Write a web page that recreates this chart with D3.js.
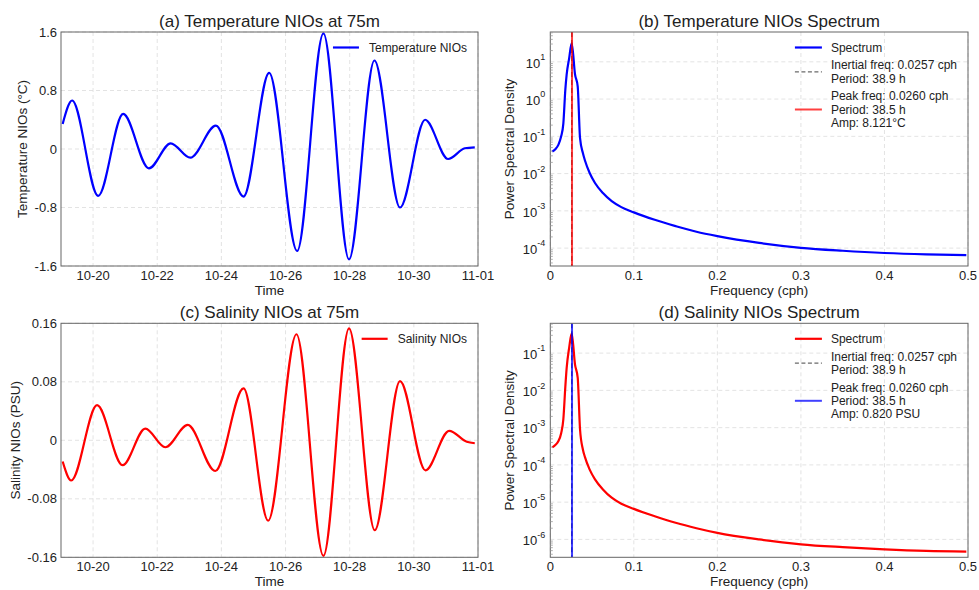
<!DOCTYPE html>
<html>
<head>
<meta charset="utf-8">
<script src="https://cdn.jsdelivr.net/npm/d3@7"></script>
<style>
  body { margin: 0; background: #fff; }
  text { font-family: "Liberation Sans", Arial, sans-serif; fill: #222; }
</style>
</head>
<body>
<div id="chart"></div>
<script>
// time series (extrema + ends)
const tempTimes = ["2024-10-19 01:15","2024-10-19 08:20","2024-10-20 03:50","2024-10-20 22:30","2024-10-21 17:45","2024-10-22 10:05","2024-10-23 00:45","2024-10-23 19:55","2024-10-24 16:35","2024-10-25 11:45","2024-10-26 08:40","2024-10-27 04:20","2024-10-27 23:30","2024-10-28 18:30","2024-10-29 13:40","2024-10-30 08:25","2024-10-31 01:40","2024-10-31 14:10","2024-10-31 21:35"];
const tempValues = [0.343,0.663,-0.64,0.48,-0.265,0.078,-0.119,0.32,-0.65,1.04,-1.395,1.58,-1.51,1.21,-0.80,0.40,-0.137,0.01,0.023];

const salTimes = ["2024-10-19 01:15","2024-10-19 07:40","2024-10-20 03:00","2024-10-20 22:05","2024-10-21 15:05","2024-10-22 06:00","2024-10-22 22:50","2024-10-23 19:25","2024-10-24 16:35","2024-10-25 11:00","2024-10-26 08:10","2024-10-27 04:20","2024-10-27 23:30","2024-10-28 18:45","2024-10-29 13:40","2024-10-30 08:40","2024-10-31 02:25","2024-10-31 15:35","2024-10-31 21:35"];
const salValues = [-0.029,-0.055,0.048,-0.034,0.016,-0.0095,0.021,-0.042,0.071,-0.110,0.145,-0.158,0.153,-0.123,0.081,-0.041,0.013,-0.002,-0.004];

// spectra (cph, PSD)
const specFreq = [0.0024,0.006,0.0096,0.013,0.0156,0.018,0.0196,0.0226,0.0256,0.0296,0.0328,0.0356,0.039,0.0415,0.047,0.0535,0.063,0.0735,0.085,0.1,0.125,0.15,0.175,0.2,0.25,0.3,0.35,0.4,0.45,0.498];
const tempPSD = [3.9e-2,4.5e-2,5.9e-2,1.0e-1,2.2e-1,1.8,4.6,12.6,32,4.6,2.2,8.9e-2,3.55e-2,2.24e-2,1.05e-2,5.6e-3,3.0e-3,1.82e-3,1.26e-3,9.1e-4,5.75e-4,3.9e-4,2.75e-4,2.1e-4,1.38e-4,1.02e-4,8.5e-5,7.4e-5,6.8e-5,6.5e-5];
const salPSD = [2.95e-4,3.4e-4,4.3e-4,7.1e-4,1.66e-3,1.26e-2,4.0e-2,0.141,0.34,4.9e-2,2.2e-2,8.9e-4,2.6e-4,1.62e-4,7.6e-5,4.1e-5,2.2e-5,1.32e-5,9.1e-6,6.6e-6,4.2e-6,2.8e-6,2.0e-6,1.5e-6,1.0e-6,7.4e-7,6.2e-7,5.4e-7,4.9e-7,4.7e-7];

const inertialFreq = 0.0257;
const peakFreq = 0.0260;

const timeTicks = ["2024-10-20","2024-10-22","2024-10-24","2024-10-26","2024-10-28","2024-10-30","2024-11-01"];
const tempTicks = [-1.6,-0.8,0,0.8,1.6];
const salTicks = [-0.16,-0.08,0,0.08,0.16];
const freqTicks = [0,0.1,0.2,0.3,0.4,0.5];
const tempExps = [-4,-3,-2,-1,0,1];
const salExps = [-6,-5,-4,-3,-2,-1];

const tempSpecLegend = [["Spectrum"],["Inertial freq: 0.0257 cph","Period: 38.9 h"],["Peak freq: 0.0260 cph","Period: 38.5 h","Amp: 8.121°C"]];
const salSpecLegend = [["Spectrum"],["Inertial freq: 0.0257 cph","Period: 38.9 h"],["Peak freq: 0.0260 cph","Period: 38.5 h","Amp: 0.820 PSU"]];

const width = 979, height = 590;
const parseT = d3.timeParse("%Y-%m-%d %H:%M");
const parseD = d3.timeParse("%Y-%m-%d");

const svg = d3.select("#chart").append("svg")
    .attr("width", width)
    .attr("height", height);

const FRAME = "#666", GRID = "#dcdcdc";

function drawFrame(g, b) {
    g.append("rect")
        .attr("x", b.x0).attr("y", b.y0)
        .attr("width", b.x1 - b.x0).attr("height", b.y1 - b.y0)
        .attr("fill", "none").attr("stroke", FRAME).attr("stroke-width", 1);
}

function clip(id, b) {
    svg.append("clipPath").attr("id", id).append("rect")
        .attr("x", b.x0).attr("y", b.y0)
        .attr("width", b.x1 - b.x0).attr("height", b.y1 - b.y0);
}

function gridLines(g, b, xs, ys) {
    const gg = g.append("g").attr("stroke", GRID).attr("stroke-width", 0.8)
        .attr("stroke-dasharray", "4,3");
    xs.forEach(x => gg.append("line").attr("x1", x).attr("x2", x).attr("y1", b.y0).attr("y2", b.y1));
    ys.forEach(y => gg.append("line").attr("x1", b.x0).attr("x2", b.x1).attr("y1", y).attr("y2", y));
}

function labels(g, b, title, xlabel, ylabel, ylabelX) {
    g.append("text").attr("x", (b.x0 + b.x1) / 2).attr("y", b.y0 - 5)
        .attr("text-anchor", "middle").attr("font-size", 17).text(title);
    g.append("text").attr("x", (b.x0 + b.x1) / 2).attr("y", b.y1 + 29)
        .attr("text-anchor", "middle").attr("font-size", 13.5).text(xlabel);
    g.append("text")
        .attr("transform", `translate(${ylabelX},${(b.y0 + b.y1) / 2}) rotate(-90)`)
        .attr("text-anchor", "middle").attr("dy", "0.35em").attr("font-size", 13.5).text(ylabel);
}

function fmtNum(v) {
    if (v === 0) return "0";
    return String(v);
}

function timePanel(b, times, values, color, yTicks, title, ylabel, legendLabel, id, ylabelX) {
    const g = svg.append("g");
    const x = d3.scaleTime([parseD("2024-10-19"), parseD("2024-11-01")], [b.x0, b.x1]);
    const y = d3.scaleLinear([yTicks[0], yTicks[yTicks.length - 1]], [b.y1, b.y0]);
    const xt = timeTicks.map(parseD);
    gridLines(g, b, xt.map(x), yTicks.map(y));

    clip(id, b);
    const data = times.map((t, i) => [parseT(t), values[i]]);
    g.append("path").datum(data)
        .attr("clip-path", `url(#${id})`)
        .attr("fill", "none").attr("stroke", color).attr("stroke-width", 2.2)
        .attr("d", d3.line().x(d => x(d[0])).y(d => y(d[1])).curve(d3.curveMonotoneX));

    drawFrame(g, b);

    const fmt = d3.timeFormat("%m-%d");
    xt.forEach(t => g.append("text").attr("x", x(t)).attr("y", b.y1 + 14)
        .attr("text-anchor", "middle").attr("font-size", 13).text(fmt(t)));
    yTicks.forEach(v => g.append("text").attr("x", b.x0 - 4).attr("y", y(v))
        .attr("dy", "0.35em").attr("text-anchor", "end").attr("font-size", 13).text(fmtNum(v)));

    labels(g, b, title, "Time", ylabel, ylabelX);

    // legend
    const ly = b.y0 + 15.5;
    const t = g.append("text").attr("x", b.x1 - 11).attr("y", ly).attr("dy", "0.35em")
        .attr("text-anchor", "end").attr("font-size", 12).text(legendLabel);
    const tx = b.x1 - 11 - t.node().getComputedTextLength();
    g.append("line").attr("x1", tx - 36).attr("x2", tx - 10).attr("y1", ly).attr("y2", ly)
        .attr("stroke", color).attr("stroke-width", 2.2);
}

function specPanel(b, psd, color, peakColor, exps, title, legend, id) {
    const g = svg.append("g");
    const x = d3.scaleLinear([0, 0.5], [b.x0, b.x1]);
    const lo = exps[0] - 0.48, hi = exps[exps.length - 1] + 0.80;
    const y = d3.scaleLog([Math.pow(10, lo), Math.pow(10, hi)], [b.y1, b.y0]);
    gridLines(g, b, freqTicks.map(x), exps.map(e => y(Math.pow(10, e))));

    clip(id, b);
    const cg = g.append("g").attr("clip-path", `url(#${id})`);
    const data = specFreq.map((f, i) => [f, psd[i]]);
    cg.append("path").datum(data)
        .attr("fill", "none").attr("stroke", color).attr("stroke-width", 2.2)
        .attr("d", d3.line().x(d => x(d[0])).y(d => y(d[1])).curve(d3.curveMonotoneX));
    cg.append("line").attr("x1", x(inertialFreq)).attr("x2", x(inertialFreq))
        .attr("y1", b.y0).attr("y2", b.y1)
        .attr("stroke", "#333").attr("stroke-opacity", 0.7).attr("stroke-width", 1.5)
        .attr("stroke-dasharray", "5,3");
    cg.append("line").attr("x1", x(peakFreq)).attr("x2", x(peakFreq))
        .attr("y1", b.y0).attr("y2", b.y1)
        .attr("stroke", peakColor).attr("stroke-opacity", 0.75).attr("stroke-width", 2);

    drawFrame(g, b);

    // minor log ticks
    for (let e = Math.floor(lo); e <= Math.ceil(hi); e++) {
        for (let m = 2; m <= 9; m++) {
            const v = m * Math.pow(10, e);
            if (v < Math.pow(10, lo) || v > Math.pow(10, hi)) continue;
            g.append("line").attr("x1", b.x0).attr("x2", b.x0 + 2.5)
                .attr("y1", y(v)).attr("y2", y(v)).attr("stroke", "#999").attr("stroke-width", 0.8);
        }
    }

    freqTicks.forEach(f => g.append("text").attr("x", x(f)).attr("y", b.y1 + 14)
        .attr("text-anchor", "middle").attr("font-size", 13).text(fmtNum(f)));
    exps.forEach(e => {
        const t = g.append("text").attr("x", b.x0 - 5).attr("y", y(Math.pow(10, e)))
            .attr("dy", "0.45em").attr("text-anchor", "end").attr("font-size", 13);
        t.append("tspan").text("10");
        t.append("tspan").attr("font-size", 9).attr("dy", "-0.85em").text(e < 0 ? "-" + (-e) : String(e));
    });

    labels(g, b, title, "Frequency (cph)", "Power Spectral Density", b.x0 - 41);

    // legend
    const lh = 13.3, gap = 4.4;
    const styles = [
        { stroke: color, dash: null, w: 2.2, op: 1 },
        { stroke: "#444", dash: "4,2.5", w: 1.3, op: 0.8 },
        { stroke: peakColor, dash: null, w: 2, op: 0.75 }
    ];
    let cy = b.y0 + 15.5;
    const texts = [];
    const marks = [];
    legend.forEach((lines, i) => {
        const first = cy;
        lines.forEach(s => {
            texts.push(g.append("text").attr("y", cy).attr("dy", "0.35em")
                .attr("font-size", 12).text(s));
            cy += lh;
        });
        marks.push((first + cy - lh) / 2);
        cy += gap;
    });
    const maxW = d3.max(texts, t => t.node().getComputedTextLength());
    const tx = b.x1 - 11 - maxW;
    texts.forEach(t => t.attr("x", tx));
    marks.forEach((my, i) => {
        const s = styles[i];
        g.append("line").attr("x1", tx - 36).attr("x2", tx - 9).attr("y1", my).attr("y2", my)
            .attr("stroke", s.stroke).attr("stroke-width", s.w).attr("stroke-opacity", s.op)
            .attr("stroke-dasharray", s.dash);
    });
}

const boxA = { x0: 61, x1: 478, y0: 32, y1: 266 };
const boxB = { x0: 550.3, x1: 968, y0: 32, y1: 266 };
const boxC = { x0: 61, x1: 478, y0: 323.3, y1: 557.3 };
const boxD = { x0: 550.3, x1: 968, y0: 323.3, y1: 557.3 };

timePanel(boxA, tempTimes, tempValues, "#0000ff", tempTicks,
    "(a) Temperature NIOs at 75m", "Temperature NIOs (°C)", "Temperature NIOs", "clipA", 22);
specPanel(boxB, tempPSD, "#0000ff", "#ff0000", tempExps,
    "(b) Temperature NIOs Spectrum", tempSpecLegend, "clipB");
timePanel(boxC, salTimes, salValues, "#ff0000", salTicks,
    "(c) Salinity NIOs at 75m", "Salinity NIOs (PSU)", "Salinity NIOs", "clipC", 15);
specPanel(boxD, salPSD, "#ff0000", "#0000ff", salExps,
    "(d) Salinity NIOs Spectrum", salSpecLegend, "clipD");
</script>
</body>
</html>
